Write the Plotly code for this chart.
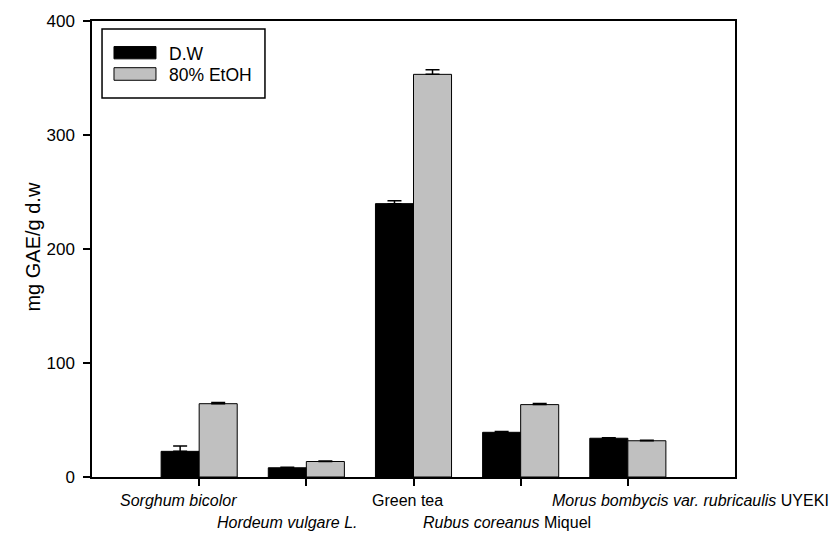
import plotly.graph_objects as go

# ---- data ----
categories = ["Sorghum bicolor", "Hordeum vulgare L.", "Green tea",
              "Rubus coreanus Miquel", "Morus bombycis var. rubricaulis UYEKI"]
category_labels = ["<i>Sorghum bicolor</i>", "<i>Hordeum vulgare L.</i>", "Green tea",
                   "<i>Rubus coreanus</i> Miquel",
                   "<i>Morus bombycis var. rubricaulis</i> UYEKI"]
series_names = ["D.W", "80% EtOH"]
dw_values = [22.5, 8.1, 239.8, 39.2, 34.0]
dw_errors = [4.6, 0.5, 2.6, 0.7, 0.5]
etoh_values = [64.3, 13.6, 353.2, 63.5, 31.8]
etoh_errors = [1.0, 0.5, 4.0, 1.0, 0.5]
y_ticks = [0, 100, 200, 300, 400]
y_title = "mg GAE/g d.w"

# ---- styles ----
colors = ["#000000", "#C0C0C0"]
FONT = "Liberation Sans, Arial, sans-serif"
label_xshift = [-21, -19, -6, -14, 63]
label_row_y = [-0.052, -0.0996, -0.052, -0.0996, -0.052]

fig = go.Figure()
for name, vals, errs, col in zip(series_names, [dw_values, etoh_values],
                                 [dw_errors, etoh_errors], colors):
    fig.add_trace(go.Bar(
        x=categories, y=vals, name=name,
        marker=dict(color=col, line=dict(color="#000000", width=1)),
        error_y=dict(type="data", symmetric=False, array=errs,
                     arrayminus=[0] * len(errs), color="#000000",
                     thickness=1.5, width=7),
        showlegend=False, hoverinfo="skip",
    ))

annotations = []
for cat, lab, dx, yy in zip(categories, category_labels, label_xshift, label_row_y):
    annotations.append(dict(x=cat, xref="x", y=yy, yref="paper", text=lab,
                            showarrow=False, xanchor="center", yanchor="middle",
                            xshift=dx, font=dict(size=16, color="#000000", family=FONT)))

annotations.append(dict(x=-0.092, xref="paper", y=0.505, yref="paper", text=y_title,
                        textangle=-90, showarrow=False, xanchor="center", yanchor="middle",
                        font=dict(size=20, color="#000000", family=FONT)))

# custom legend
shapes = [dict(type="rect", xref="paper", yref="paper", x0=0.0156, x1=0.269,
               y0=0.831, y1=0.9827, line=dict(color="#000000", width=1.5),
               fillcolor="white")]
sw_y = [(0.917, 0.944), (0.870, 0.8976)]
txt_y = [0.928, 0.881]
for name, col, (y0, y1), ty in zip(series_names, colors, sw_y, txt_y):
    shapes.append(dict(type="rect", xref="paper", yref="paper", x0=0.0342, x1=0.0995,
                       y0=y0, y1=y1, line=dict(color="#000000", width=1), fillcolor=col))
    annotations.append(dict(x=0.1162, xref="paper", y=ty, yref="paper", text=name,
                            showarrow=False, xanchor="left", yanchor="middle",
                            font=dict(size=17.5, color="#000000", family=FONT)))

fig.update_layout(
    width=833, height=541,
    margin=dict(l=92, r=98, t=15, b=64),
    paper_bgcolor="white", plot_bgcolor="white",
    barmode="group", bargap=0.29, bargroupgap=0,
    font=dict(family=FONT, size=16, color="#000000"),
    annotations=annotations, shapes=shapes,
    xaxis=dict(type="category", range=[-1, 5], showticklabels=False,
               ticks="outside", ticklen=7, tickwidth=1.5, tickcolor="#000000",
               showline=True, linecolor="#000000", linewidth=1.5, mirror=True,
               showgrid=False, zeroline=False),
    yaxis=dict(range=[0, 400], tickvals=y_ticks, ticks="outside", ticklen=7,
               tickwidth=1.5, tickcolor="#000000", ticklabelstandoff=5,
               tickfont=dict(size=17, family=FONT),
               showline=True, linecolor="#000000", linewidth=1.5, mirror=True,
               showgrid=False, zeroline=False),
)

fig.write_html("out.html", config={"displayModeBar": False},
               post_script="document.body.style.margin='0';document.body.style.overflow='hidden';")
